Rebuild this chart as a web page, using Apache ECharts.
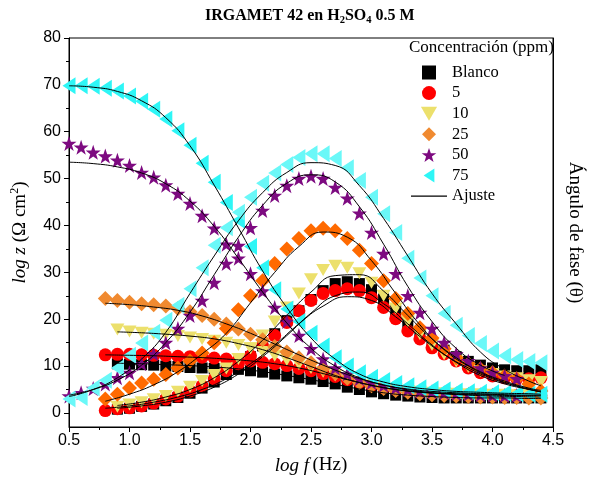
<!DOCTYPE html>
<html><head><meta charset="utf-8">
<script src="https://cdn.jsdelivr.net/npm/echarts@6/dist/echarts.min.js"></script>
<style>html,body{margin:0;padding:0;background:#fff}#c{width:592px;height:482px}</style>
</head><body><div id="c"></div>
<script>
// log f grid (Hz, log10)
const logF = [0.5,0.6,0.7,0.8,0.9,1.0,1.1,1.2,1.3,1.4,1.5,1.6,1.7,1.8,1.9,2.0,2.1,2.2,2.3,2.4,2.5,2.6,2.7,2.8,2.9,3.0,3.1,3.2,3.3,3.4,3.5,3.6,3.7,3.8,3.9,4.0,4.1,4.2,4.3,4.4];
// index into logF where each series starts
const startIdx = {blanco: 4, c5: 3, c10: 4, c25: 3, c50: 0, c75: 0};

const blancoZ = [10.5,10.4,10.3,10.2,10.0,9.9,9.7,9.6,9.5,9.4,9.3,9.0,8.7,8.3,7.9,7.5,7.2,6.7,6.2,5.5,5.0,4.5,4.1,3.8,3.6,3.4,3.3,3.2,3.2,3.2,3.2,3.2,3.2,3.2,3.2,3.2];
const blancoPhase = [0.8,1.0,1.4,1.9,2.6,3.3,4.2,5.3,6.6,8.2,10.0,12.0,14.3,16.9,19.7,21.8,24.2,26.1,27.6,28.0,27.6,26.3,24.3,21.8,19.3,17.0,15.0,13.4,12.0,11.0,10.2,9.6,9.2,9.0,9.0,9.2];
const c5Z = [12.4,12.5,12.5,12.4,12.3,12.2,12.1,12.0,11.9,11.7,11.5,11.3,11.1,10.8,10.5,10.1,9.5,9.0,8.4,7.8,7.1,6.5,5.9,5.4,5.0,4.7,4.4,4.2,4.1,4.0,3.9,3.8,3.8,3.7,3.7,3.7,3.7];
const c5Phase = [0.5,0.9,1.1,1.5,2.1,3.0,3.6,4.7,5.8,7.3,9.0,10.5,12.2,14.3,16.5,19.3,21.8,24.0,25.5,26.1,26.5,26.1,24.6,22.5,20.1,17.5,15.8,13.9,12.6,11.1,9.6,8.6,7.9,7.5,7.3,7.3,7.5];
const c10Z = [17.8,17.4,17.1,16.9,16.7,16.4,16.1,15.8,15.4,15.0,14.5,13.8,13.0,12.2,11.3,10.4,9.6,8.8,8.0,7.2,6.5,5.9,5.4,5.0,4.7,4.5,4.3,4.2,4.1,4.0,4.0,3.9,3.9,3.8,3.8,3.8];
const c10Phase = [1.3,1.8,2.3,2.9,3.6,4.5,5.6,6.8,8.1,9.5,11.5,13.8,16.5,19.5,22.5,25.5,28.5,30.5,31.4,31.0,29.8,27.8,25.0,22.3,19.5,16.8,14.5,12.5,11.0,9.8,8.9,8.3,7.8,7.4,7.0,6.6];
const c25Z = [24.4,24.0,23.6,23.3,23.1,22.8,22.3,21.6,20.8,20.0,19.0,17.9,16.8,15.6,14.2,13.0,11.8,10.7,9.5,8.4,7.4,6.5,5.8,5.2,4.8,4.4,4.1,3.9,3.7,3.6,3.5,3.4,3.4,3.3,3.3,3.2,3.2];
const c25Phase = [3.0,4.0,5.3,6.4,7.2,8.2,9.6,11.1,12.8,15.0,18.0,22.0,25.0,28.2,31.9,35.0,37.2,38.9,39.4,38.9,37.2,34.7,31.9,28.2,24.4,21.2,18.2,16.0,13.7,11.8,10.5,9.4,8.6,7.9,7.3,6.2,4.7];
const c50Z = [57.5,56.7,55.6,54.8,53.9,52.8,51.3,50.3,48.6,46.8,44.7,42.1,39.4,36.0,33.0,29.7,26.0,22.5,19.5,16.5,13.7,11.5,9.6,8.3,7.3,6.5,5.9,5.4,5.0,4.7,4.5,4.3,4.1,4.0,3.9,3.8,3.7,3.7];
const c50Phase = [3.6,4.3,5.2,6.2,7.5,8.6,10.5,12.6,15.0,18.0,20.8,24.0,27.8,31.9,35.7,39.5,43.2,46.4,48.5,50.0,50.5,50.0,48.1,45.8,42.6,38.5,34.0,29.7,25.0,21.4,18.0,15.0,12.6,11.1,9.6,8.6,7.9,7.3];
const c75Z = [69.8,69.8,69.7,69.3,68.7,67.6,66.5,64.8,62.7,60.2,57.1,53.3,49.2,44.9,41.1,35.5,31.0,26.3,22.2,19.5,17.0,14.3,11.8,10.0,8.6,7.6,6.9,6.3,5.8,5.4,5.1,4.9,4.7,4.5,4.4,4.3,4.2,4.1,4.0,4.0];
const c75Phase = [3.0,3.3,5.3,7.0,9.6,12.3,14.9,17.2,19.8,23.0,26.5,31.0,35.8,39.5,42.8,46.0,49.0,51.2,53.0,54.5,55.3,55.3,54.3,52.3,49.6,46.0,42.5,38.5,33.0,28.8,25.0,21.2,18.7,16.5,14.8,13.2,12.2,11.4,11.0,10.7];

// fit ("Ajuste") curves
const fitXA = [0.5,0.7,0.9,1.1,1.3,1.5,1.7,1.9,2.1,2.3,2.5,2.7,2.9,3.1,3.3,3.5,3.7,3.9,4.1,4.3,4.4];
const fitXB = [0.8,1.0,1.2,1.4,1.6,1.8,2.0,2.2,2.4,2.6,2.8,3.0,3.2,3.4,3.6,3.8,4.0,4.2,4.4];
const fitXC = [0.9,1.1,1.3,1.5,1.7,1.9,2.1,2.3,2.5,2.7,2.9,3.1,3.3,3.5,3.7,3.9,4.1,4.3,4.4];
const fit75Z = [69.8,69.5,68.6,66.6,63.0,57.0,48.6,39.5,30.3,22.5,16.0,11.5,8.3,6.6,5.6,5.0,4.6,4.4,4.2,4.1,4.0];
const fit75Phase = [3.5,5.0,7.5,11.5,17.2,25.5,33.5,41.0,47.0,51.3,53.4,52.8,48.5,41.5,33.5,25.5,19.0,13.0,9.3,6.8,5.8];
const fit50Z = [53.5,53.2,52.5,51.2,48.9,45.2,39.8,33.0,25.8,19.2,13.8,10.0,7.5,6.0,5.1,4.6,4.3,4.1,4.0];
const fit50Phase = [3.8,5.0,7.0,10.2,15.0,21.5,29.5,37.5,44.3,49.0,50.8,49.3,44.0,36.0,27.0,19.5,13.8,10.2,8.0];
const fit25Z = [23.4,23.1,22.6,21.9,20.7,19.0,17.0,14.7,12.4,10.2,8.2,6.6,5.4,4.6,4.1,3.8,3.6,3.5,3.4];
const fit25Phase = [2.5,4.0,6.0,8.8,12.6,17.0,23.5,30.0,35.5,38.6,37.5,32.5,25.5,18.8,13.5,10.0,7.5,5.8,4.5];
const fit5Z = [12.4,12.3,12.2,12.0,11.8,11.5,11.1,10.5,9.6,8.4,7.1,5.9,5.0,4.4,4.1,3.9,3.8,3.7,3.7];
const fit5Phase = [1.0,1.5,2.3,3.4,5.0,7.3,10.5,14.5,19.0,22.8,24.8,24.0,20.5,16.3,12.5,9.6,7.3,5.7,4.5];
const fitBlancoZ = [10.6,10.5,10.3,10.1,9.8,9.4,8.8,8.0,7.1,6.1,5.1,4.3,3.8,3.5,3.3,3.2,3.2,3.1,3.1];
const fitBlancoPhase = [1.0,1.5,2.3,3.6,5.5,8.3,12.0,16.5,21.3,25.0,25.8,23.3,19.0,14.5,10.8,8.0,6.2,5.0,4.5];
const fit10Z = [17.3,17.1,16.8,16.4,15.8,14.8,13.5,11.8,9.9,8.0,6.5,5.4,4.7,4.3,4.1,4.0,3.9,3.8,3.8];
const fit10Phase = [1.6,2.3,3.4,5.0,7.5,11.0,15.5,20.8,25.8,29.3,29.5,26.0,20.8,15.8,11.8,8.8,6.8,5.3,4.8];

const yTicks = [0,10,20,30,40,50,60,70,80];
const yMinorTicks = [5,15,25,35,45,55,65,75];

const SQ = 'path://M0,0H10V10H0Z';
const TRI_DOWN = 'path://M0,0H12L6,10.4Z';
const DIAM = 'path://M5,0L10,5L5,10L0,5Z';
const STAR = 'path://M50,0L62,35L98,35L69,57L80,92L50,71L20,92L31,57L2,35L38,35Z';
const TRI_LEFT = 'path://M10,0L10,13L0,6.5Z';

function pts(xs, start, ys) { return ys.map((y, i) => [xs[start + i], y]); }
function scat(name, data, symbol, size, color) {
  return {type: 'scatter', name, data, symbol, symbolSize: size, itemStyle: {color, opacity: 1}, silent: true};
}
function fit(xs, ys) {
  return {type: 'line', name: 'Ajuste', data: pts(xs, 0, ys), showSymbol: false, symbol: 'none', smooth: true,
    lineStyle: {color: '#000', width: 1}, itemStyle: {color: '#000'}, z: 5, silent: true};
}

const serif = 'Liberation Serif';
const series = [
  scat('Blanco', pts(logF, startIdx.blanco, blancoZ), SQ, [11, 11], '#000000'),
  scat('Blanco', pts(logF, startIdx.blanco, blancoPhase), SQ, [11, 11], '#000000'),
  scat('5', pts(logF, startIdx.c5, c5Z), 'circle', 13, '#FF0000'),
  scat('5', pts(logF, startIdx.c5, c5Phase), 'circle', 13, '#FF0000'),
  scat('10', pts(logF, startIdx.c10, c10Z), TRI_DOWN, [14, 12], '#ECE06C'),
  scat('10', pts(logF, startIdx.c10, c10Phase), TRI_DOWN, [14, 12], '#ECE06C'),
  scat('25', pts(logF, startIdx.c25, c25Z), DIAM, [15, 15], '#F08A30'),
  scat('25', pts(logF, startIdx.c25, c25Phase), DIAM, [15, 15], '#FF6A00'),
  scat('50', pts(logF, startIdx.c50, c50Z), STAR, [15, 15], '#7D0A80'),
  scat('50', pts(logF, startIdx.c50, c50Phase), STAR, [15, 15], '#7D0A80'),
  scat('75', pts(logF, startIdx.c75, c75Z), TRI_LEFT, [13, 17], '#2EF6F6'),
  scat('75', pts(logF, startIdx.c75, c75Phase), TRI_LEFT, [13, 17], '#6AF8F8'),
  fit(fitXC, fitBlancoZ), fit(fitXC, fitBlancoPhase),
  fit(fitXB, fit5Z), fit(fitXB, fit5Phase),
  fit(fitXC, fit10Z), fit(fitXC, fit10Phase),
  fit(fitXB, fit25Z), fit(fitXB, fit25Phase),
  fit(fitXA, fit50Z), fit(fitXA, fit50Phase),
  fit(fitXA, fit75Z), fit(fitXA, fit75Phase)
];

const chart = echarts.init(document.getElementById('c'), null, {renderer: 'canvas'});
chart.setOption({
  animation: false,
  backgroundColor: '#fff',
  title: {
    text: '{b|IRGAMET 42 en H}{s|2}{b|SO}{s|4}{b| 0.5 M}',
    left: 205, top: 5, padding: 0,
    textStyle: {rich: {
      b: {fontFamily: serif, fontWeight: 'bold', fontSize: 16, lineHeight: 21, color: '#000'},
      s: {fontFamily: serif, fontWeight: 'bold', fontSize: 10.5, lineHeight: 10, verticalAlign: 'bottom', color: '#000'}
    }}
  },
  graphic: [{type: 'text', left: 409, top: 39, style: {text: 'Concentración (ppm)', font: '17px "Liberation Serif"', fill: '#000'}}],
  legend: {
    left: 406, top: 59, orient: 'vertical', itemWidth: 36, itemHeight: 14, itemGap: 3.6,
    textStyle: {fontFamily: serif, fontSize: 16.5, color: '#000'},
    data: ['Blanco', '5', '10', '25', '50', '75', {name: 'Ajuste', icon: 'path://M0,0H40V1.4H0Z'}],
    selectedMode: false
  },
  grid: {left: 69, right: 36, top: 38, bottom: 55, show: true, borderColor: '#000', borderWidth: 1, backgroundColor: 'transparent'},
  xAxis: {
    type: 'value', min: 0.5, max: 4.5, interval: 0.5,
    axisLine: {show: true, onZero: false, lineStyle: {color: '#000', width: 1}},
    axisTick: {show: true, length: 5, lineStyle: {color: '#000'}},
    minorTick: {show: true, splitNumber: 2, length: 3, lineStyle: {color: '#000'}},
    splitLine: {show: false},
    axisLabel: {color: '#000', fontFamily: 'Liberation Sans', fontSize: 16, margin: 6, formatter: v => v.toFixed(1)},
    name: '{i|log f} {n|(Hz)}', nameLocation: 'middle', nameGap: 29,
    nameTextStyle: {rich: {
      i: {fontFamily: serif, fontStyle: 'italic', fontSize: 19, color: '#000'},
      n: {fontFamily: serif, fontSize: 19, color: '#000'}
    }}
  },
  yAxis: [
    {
      type: 'value', min: -3, max: 80, position: 'left',
      axisLine: {show: true, onZero: false, lineStyle: {color: '#000', width: 1}},
      axisTick: {show: true, length: 5, customValues: yTicks, lineStyle: {color: '#000'}},
      axisLabel: {customValues: yTicks, color: '#000', fontFamily: 'Liberation Sans', fontSize: 16, margin: 8},
      splitLine: {show: false},
      name: '{i|log z}{n| (Ω cm}{s|2}{n|)}', nameLocation: 'middle', nameGap: 38,
      nameTextStyle: {rich: {
        i: {fontFamily: serif, fontStyle: 'italic', fontSize: 19, lineHeight: 22, color: '#000'},
        n: {fontFamily: serif, fontSize: 19, lineHeight: 22, color: '#000'},
        s: {fontFamily: serif, fontSize: 12, lineHeight: 12, verticalAlign: 'top', color: '#000'}
      }}
    },
    {
      type: 'value', min: -3, max: 80, position: 'right',
      axisLine: {show: true, onZero: false, lineStyle: {color: '#000', width: 1}},
      axisTick: {show: false}, axisLabel: {show: false}, splitLine: {show: false},
      name: 'Ángulo de fase (θ)', nameLocation: 'middle', nameRotate: -90, nameGap: 12,
      nameTextStyle: {fontFamily: serif, fontSize: 19, color: '#000'}
    },
    {
      type: 'value', min: -3, max: 80, position: 'left',
      axisLine: {show: false},
      axisTick: {show: true, length: 3, customValues: yMinorTicks, lineStyle: {color: '#000'}},
      axisLabel: {show: false}, splitLine: {show: false}
    }
  ],
  series
});
</script></body></html>
